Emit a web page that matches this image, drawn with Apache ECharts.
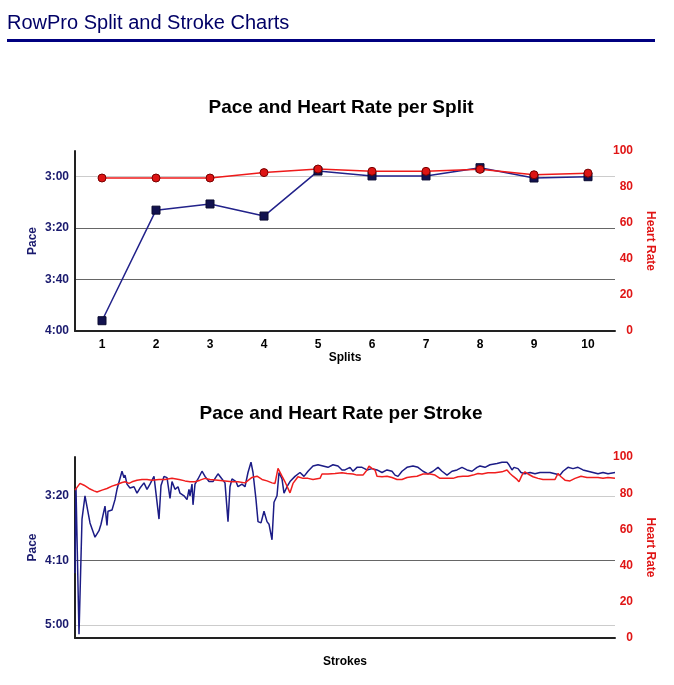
<!DOCTYPE html>
<html><head><meta charset="utf-8">
<script src="https://cdn.jsdelivr.net/npm/echarts@6/dist/echarts.min.js"></script>
<style>html,body{margin:0;padding:0;background:#fff;}#c{width:674px;height:685px;}</style>
</head><body><div id="c"></div>
<script>
// ---------- DATA ----------
const pageTitle = 'RowPro Split and Stroke Charts';
const splitTitle = 'Pace and Heart Rate per Split';
const strokeTitle = 'Pace and Heart Rate per Stroke';

const splitCategories = ['1','2','3','4','5','6','7','8','9','10'];
// pace in seconds per 500m
const splitPace = [236, 193, 190.6, 195.3, 177.8, 179.7, 179.7, 176.5, 180.5, 180];
const splitHeartRate = [85, 85, 85, 88, 90, 88.7, 88.7, 89.8, 86.8, 87.7];

const splitPaceTickValues = [180, 200, 220, 240];
const splitPaceTickLabels = ['3:00', '3:20', '3:40', '4:00'];
const strokePaceTickValues = [200, 250, 300];
const strokePaceTickLabels = ['3:20', '4:10', '5:00'];
const heartRateTicks = [0, 20, 40, 60, 80, 100];

// [stroke, pace seconds]
const strokePace = [[0,260],[1,194],[4,307],[7,218],[10,200],[15,221],[20,232],[24,227],[26,222],[30,208],[32,223],[33,212],[37,211],[40,203],[42,195],[47,181],[49,186],[50,184],[52,191],[55,194],[59,193],[62,198],[65,194],[69,190],[72,195],[75,191],[79,185],[81,186],[84,218],[86,192],[89,185],[92,186],[95,202],[97,189],[100,195],[103,193],[105,198],[109,200],[112,203],[114,195],[115,200],[117,191],[118,207],[120,191],[123,187],[127,181],[130,185],[132,184],[134,189],[138,189],[143,183],[147,187],[150,190],[153,220],[155,193],[157,187],[161,189],[163,193],[167,191],[170,193],[173,182],[176,174],[178,182],[181,203],[183,220],[186,221],[189,212],[192,220],[194,222],[197,234],[199,205],[202,200],[204,182],[207,187],[209,198],[212,193],[215,189],[220,185],[225,182],[229,185],[233,181],[238,177],[243,176],[248,177],[253,178],[258,176],[263,177],[267,180],[270,180],[275,178],[278,181],[282,178],[287,178],[292,180],[297,179],[302,180],[307,182],[312,180],[317,181],[320,184],[323,185],[327,181],[332,178],[338,177],[343,178],[348,181],[353,183],[358,181],[363,178],[367,181],[372,184],[377,181],[382,180],[387,178],[392,180],[397,181],[402,178],[405,177],[410,178],[415,176],[422,175],[427,174],[432,174],[434,176],[437,180],[439,178],[443,179],[446,182],[450,183],[455,182],[460,183],[465,182],[470,182],[475,182],[480,183],[485,184],[488,181],[493,178],[498,179],[503,178],[508,180],[513,181],[518,182],[523,183],[528,182],[533,183],[540,182]];
// [stroke, heart rate]
const strokeHeartRate = [[0,81.7],[2,80.9],[5,85.4],[9,84.4],[14,82.6],[19,81.3],[22,80.7],[27,81.7],[32,82.6],[37,83.9],[42,84.8],[47,85.9],[50,86.3],[54,85.4],[57,86.3],[62,87.2],[67,87.6],[72,87.6],[77,87.2],[84,87.6],[90,87.6],[97,88.2],[104,87.6],[110,86.8],[115,86.3],[120,86.3],[125,87.2],[130,88.2],[135,87.6],[143,87.2],[150,86.8],[157,86.3],[163,86.3],[170,85.7],[177,88.7],[182,89.4],[187,87.6],[192,86.8],[197,85.7],[200,85.4],[203,93.7],[207,89.4],[210,86.3],[215,80.2],[218,85.4],[223,89.1],[228,88.2],[233,88.2],[238,87.6],[245,88.2],[247,90.6],[253,90.6],[260,90.9],[267,91.3],[272,90.9],[278,90.6],[282,90],[288,90],[292,92.8],[294,95],[297,93.7],[300,92.8],[302,89.4],[307,89.1],[312,89.4],[317,88.7],[322,87.6],[327,87.6],[332,88.7],[337,89.1],[342,89.4],[348,90.6],[355,90.6],[360,90],[365,88.2],[372,88.2],[378,88.2],[383,89.1],[388,89.4],[393,89.4],[398,90],[403,90.9],[407,90.6],[413,91.3],[420,91.3],[427,91.8],[432,92.8],[435,90.9],[438,89.4],[442,87.6],[444,86.3],[447,90],[450,91.8],[453,90.6],[458,89.1],[463,88.2],[468,87.6],[473,87.6],[480,87.6],[483,90.9],[486,89.1],[490,87.2],[495,86.8],[500,88.2],[506,89.4],[512,88.7],[518,88.7],[523,88.7],[528,88.2],[533,88.7],[540,88.2]];

// ---------- STYLE / LAYOUT ----------
const FONT = '"Liberation Sans", Arial, Helvetica, sans-serif';
const NAVY = '#1a1a6e';
const RED = '#e01515';
const LIGHT_GRID = '#cccccc';
const DARK_GRID = '#666666';
const topLight = [180], topDark = [200, 220];
const botLight = [200, 300], botDark = [250];

function gridColors(min, max, step, light, dark) {
  const out = [];
  for (let v = min; v <= max + 1e-9; v += step) {
    out.push(light.includes(v) ? LIGHT_GRID : dark.includes(v) ? DARK_GRID : 'rgba(0,0,0,0)');
  }
  return out;
}
function paceFormatter(vals, labels) {
  return function (v) { const i = vals.indexOf(Math.round(v)); return i >= 0 ? labels[i] : ''; };
}

const axisLineDark = { show: true, onZero: false, lineStyle: { color: '#222', width: 2 } };

function paceAxis(gridIndex, min, max, vals, labels, light, dark) {
  return {
    type: 'value', gridIndex, inverse: true, min, max, interval: 10,
    axisLine: axisLineDark, axisTick: { show: false },
    axisLabel: { formatter: paceFormatter(vals, labels), color: NAVY, fontWeight: 'bold', fontSize: 12, fontFamily: FONT, margin: 6 },
    splitLine: { show: true, lineStyle: { color: gridColors(min, max, 10, light, dark), width: 1 } },
    name: 'Pace', nameLocation: 'middle', nameRotate: 90, nameGap: 36, nameMoveOverlap: false,
    nameTextStyle: { color: NAVY, fontWeight: 'bold', fontSize: 12, fontFamily: FONT }
  };
}
function hrAxis(gridIndex) {
  return {
    type: 'value', gridIndex, position: 'right', min: 0, max: 100, interval: 20,
    axisLine: { show: false }, axisTick: { show: false }, splitLine: { show: false },
    axisLabel: { color: RED, fontWeight: 'bold', fontSize: 12, fontFamily: FONT, align: 'right', margin: 18,
      formatter: v => heartRateTicks.includes(v) ? String(v) : '' },
    name: 'Heart Rate', nameLocation: 'middle', nameRotate: -90, nameGap: 28,
    nameTextStyle: { color: RED, fontWeight: 'bold', fontSize: 12, fontFamily: FONT }
  };
}

const chart = echarts.init(document.getElementById('c'), null, { renderer: 'canvas' });
chart.setOption({
  animation: false,
  backgroundColor: '#fff',
  textStyle: { fontFamily: FONT },
  graphic: [
    { type: 'text', x: 7, y: 23, style: { text: pageTitle, font: '20px ' + FONT, fill: '#000066', textAlign: 'left', textVerticalAlign: 'middle' } },
    { type: 'rect', shape: { x: 7, y: 39, width: 648, height: 3 }, style: { fill: '#000080' } },
    { type: 'text', x: 341, y: 108, style: { text: splitTitle, font: 'bold 19px ' + FONT, fill: '#000', textAlign: 'center', textVerticalAlign: 'middle' } },
    { type: 'text', x: 341, y: 414, style: { text: strokeTitle, font: 'bold 19px ' + FONT, fill: '#000', textAlign: 'center', textVerticalAlign: 'middle' } }
  ],
  grid: [
    { left: 75, top: 151, width: 540, height: 180 },
    { left: 75, top: 457, width: 540, height: 181 }
  ],
  xAxis: [
    { type: 'category', gridIndex: 0, data: splitCategories, boundaryGap: true,
      axisLine: axisLineDark, axisTick: { show: false },
      axisLabel: { color: '#000', fontWeight: 'bold', fontSize: 12, fontFamily: FONT, margin: 8 },
      name: 'Splits', nameLocation: 'middle', nameGap: 17,
      nameTextStyle: { color: '#000', fontWeight: 'bold', fontSize: 12, fontFamily: FONT } },
    { type: 'value', gridIndex: 1, min: 0, max: 540,
      axisLine: axisLineDark, axisTick: { show: false }, axisLabel: { show: false }, splitLine: { show: false },
      name: 'Strokes', nameLocation: 'middle', nameGap: 18,
      nameTextStyle: { color: '#000', fontWeight: 'bold', fontSize: 12, fontFamily: FONT } }
  ],
  yAxis: [
    paceAxis(0, 170, 240, splitPaceTickValues, splitPaceTickLabels, topLight, topDark),
    hrAxis(0),
    paceAxis(1, 170, 310, strokePaceTickValues, strokePaceTickLabels, botLight, botDark),
    hrAxis(1)
  ],
  series: [
    { type: 'line', xAxisIndex: 0, yAxisIndex: 0, data: splitPace,
      symbol: 'rect', symbolSize: 8, showAllSymbol: true,
      lineStyle: { color: '#22228a', width: 1.5 }, itemStyle: { color: '#12124f', borderColor: '#0a0a30', borderWidth: 1 } },
    { type: 'line', xAxisIndex: 0, yAxisIndex: 1, data: splitHeartRate,
      symbol: 'circle', symbolSize: 8, showAllSymbol: true,
      lineStyle: { color: '#ee1a1a', width: 1.5 }, itemStyle: { color: '#dd1414', borderColor: '#7a0000', borderWidth: 1 } },
    { type: 'line', xAxisIndex: 1, yAxisIndex: 2, data: strokePace, showSymbol: false,
      lineStyle: { color: '#1c1c86', width: 1.5 } },
    { type: 'line', xAxisIndex: 1, yAxisIndex: 3, data: strokeHeartRate, showSymbol: false,
      lineStyle: { color: '#f01e1e', width: 1.5 } }
  ]
});
</script></body></html>
